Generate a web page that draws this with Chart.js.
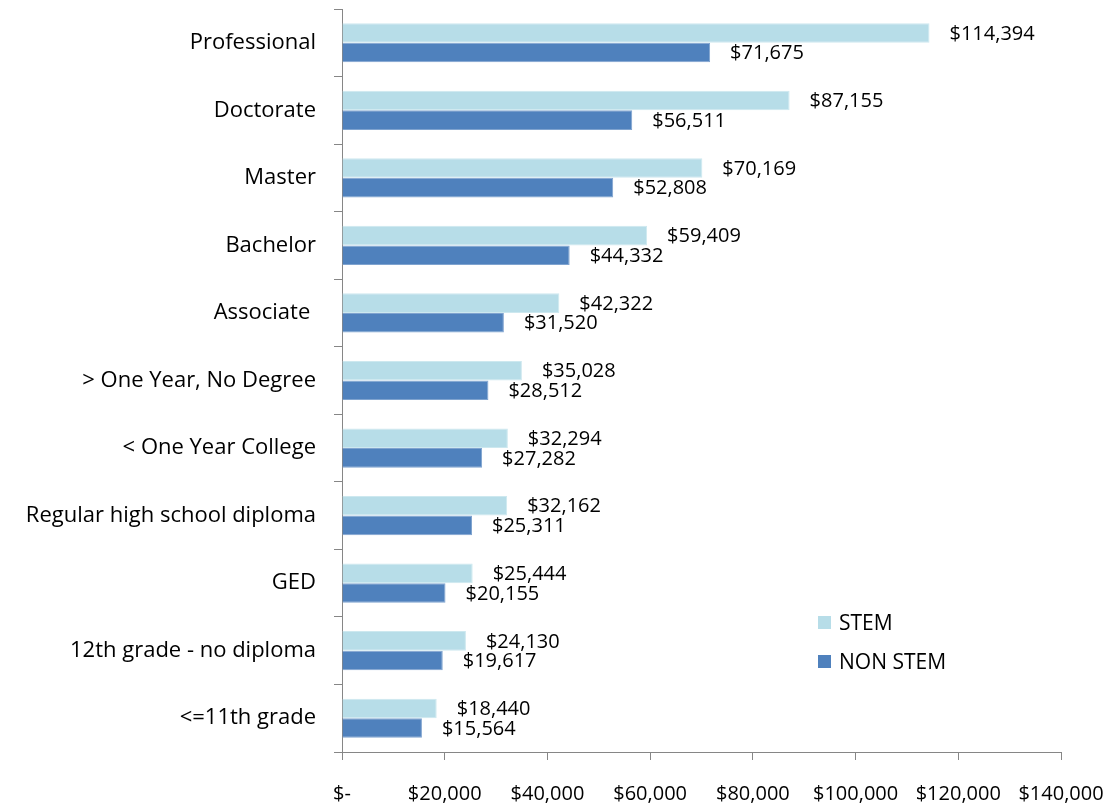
<!DOCTYPE html>
<html>
<head>
<meta charset="utf-8">
<script src="https://cdn.jsdelivr.net/npm/chart.js@4"></script>
<style>
  body { margin: 0; background: #fff; }
</style>
</head>
<body>
<canvas id="earningsChart" width="1120" height="810"></canvas>
<script>
const categories = ["Professional", "Doctorate", "Master", "Bachelor", "Associate ", "> One Year, No Degree",
  "< One Year College", "Regular high school diploma", "GED", "12th grade - no diploma", "<=11th grade"];
const stemValues = [114394, 87155, 70169, 59409, 42322, 35028, 32294, 32162, 25444, 24130, 18440];
const nonStemValues = [71675, 56511, 52808, 44332, 31520, 28512, 27282, 25311, 20155, 19617, 15564];
const xTicks = [0, 20000, 40000, 60000, 80000, 100000, 120000, 140000];

const FONT = "'Open Sans', sans-serif";

function money(v) {
  if (v === 0) return "$-";
  return "$" + v.toLocaleString("en-US");
}

// value labels to the right of each bar
const barLabels = {
  id: 'barLabels',
  afterDatasetsDraw(chart) {
    const c = chart.ctx;
    c.save();
    c.font = "20px " + FONT;
    c.fillStyle = "#000";
    c.textAlign = "left";
    c.textBaseline = "middle";
    chart.data.datasets.forEach((ds, i) => {
      chart.getDatasetMeta(i).data.forEach((bar, j) => {
        c.fillText(money(ds.data[j]), bar.x + 20, bar.y + 1);
      });
    });
    c.restore();
  }
};

// legend drawn inside the plot, lower right
const innerLegend = {
  id: 'innerLegend',
  afterDraw(chart) {
    const c = chart.ctx;
    c.save();
    c.font = "21px " + FONT;
    c.textBaseline = "middle";
    chart.data.datasets.forEach((ds, i) => {
      const y = 623 + i * 39;
      c.fillStyle = ds.backgroundColor;
      c.fillRect(818, y - 7, 13, 13);
      c.fillStyle = "#000";
      c.fillText(ds.label, 839, y + 1);
    });
    c.restore();
  }
};

new Chart(document.getElementById("earningsChart").getContext('2d'), {
  type: 'bar',
  data: {
    labels: categories,
    datasets: [{
      label: "STEM",
      data: stemValues,
      backgroundColor: "#B7DDE8",
      borderColor: "#CDE8EF",
      borderWidth: 1,
      categoryPercentage: 0.58,
      barPercentage: 1
    }, {
      label: "NON STEM",
      data: nonStemValues,
      backgroundColor: "#4F81BD",
      borderColor: "#7FA3CF",
      borderWidth: 1,
      categoryPercentage: 0.58,
      barPercentage: 1
    }]
  },
  options: {
    indexAxis: 'y',
    responsive: false,
    animation: false,
    layout: { padding: { top: 9, right: 59, bottom: 0, left: 0 } },
    plugins: {
      legend: { display: false },
      tooltip: { enabled: false }
    },
    scales: {
      x: {
        min: 0,
        max: 140000,
        afterBuildTicks(axis) {
          axis.ticks = xTicks.map(v => ({ value: v }));
        },
        afterFit(axis) {
          axis.height = 58;
          axis.paddingLeft = 0;
          axis.paddingRight = 0;
        },
        grid: { drawOnChartArea: false, color: "#868686", tickLength: 8 },
        border: { color: "#868686", width: 1 },
        ticks: {
          color: "#000",
          font: { family: FONT, size: 20 },
          padding: 22,
          maxRotation: 0,
          autoSkip: false,
          callback: v => money(v)
        }
      },
      y: {
        afterFit(axis) {
          axis.width = 342;
          axis.paddingTop = 0;
          axis.paddingBottom = 0;
        },
        grid: { drawOnChartArea: false, color: "#868686", tickLength: 8, offset: true },
        border: { color: "#868686", width: 1 },
        ticks: {
          color: "#000",
          font: { family: FONT, size: 22 },
          padding: 18
        }
      }
    }
  },
  plugins: [barLabels, innerLegend]
});
</script>
</body>
</html>
